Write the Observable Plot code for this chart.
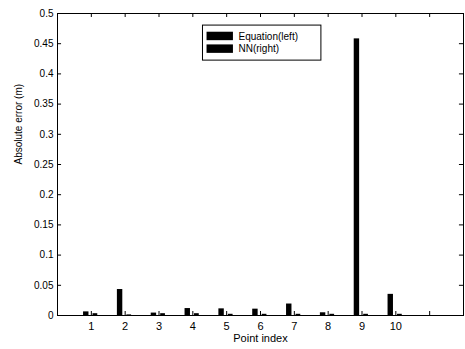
<!DOCTYPE html>
<html><head><meta charset="utf-8">
<script src="https://cdn.jsdelivr.net/npm/d3@7"></script>
<script src="https://cdn.jsdelivr.net/npm/@observablehq/plot@0.6"></script>
<style>body{margin:0;background:#fff;} svg{display:block;}</style>
</head><body><div id="chart"></div>
<script>
const pointIndex = [1, 2, 3, 4, 5, 6, 7, 8, 9, 10];
const equationErr = [0.006, 0.043, 0.004, 0.0115, 0.011, 0.0105, 0.019, 0.0045, 0.458, 0.035];
const nnErr = [0.003, 0.001, 0.003, 0.003, 0.002, 0.002, 0.002, 0.002, 0.002, 0.002];
const seriesNames = ["Equation(left)", "NN(right)"];
const yTicks = [0, 0.05, 0.1, 0.15, 0.2, 0.25, 0.3, 0.35, 0.4, 0.45, 0.5];
const xTicks = [1, 2, 3, 4, 5, 6, 7, 8, 9, 10, 11];
const xLabels = [1, 2, 3, 4, 5, 6, 7, 8, 9, 10];

const bars = [];
pointIndex.forEach((p, i) => {
  bars.push({x1: p - 0.23, x2: p - 0.07, y: equationErr[i], s: seriesNames[0]});
  bars.push({x1: p + 0.05, x2: p + 0.19, y: nnErr[i], s: seriesNames[1]});
});

const fmt = d => d === 0 ? "0" : String(d);
const chart = Plot.plot({
  width: 465, height: 349,
  marginLeft: 57, marginRight: 2, marginTop: 13, marginBottom: 34,
  style: {fontFamily: "Liberation Sans, Arial, sans-serif", fontSize: "10px", color: "#000", background: "#fff"},
  x: {domain: [0, 12]},
  y: {domain: [0, 0.5]},
  marks: [
    Plot.rectY(bars, {x1: "x1", x2: "x2", y1: 0, y2: "y", fill: "#000"}),
    Plot.frame({stroke: "#000"}),
    Plot.ruleY(yTicks, {y: d => d, x1: 0, x2: 0.12, stroke: "#000"}),
    Plot.ruleY(yTicks, {y: d => d, x1: 11.88, x2: 12, stroke: "#000"}),
    Plot.ruleX(xTicks, {x: d => d, y1: 0, y2: 0.0066, stroke: "#000"}),
    Plot.ruleX(xTicks, {x: d => d, y1: 0.4934, y2: 0.5, stroke: "#000"}),
    Plot.axisY(yTicks, {tickSize: 0, tickPadding: 4, tickFormat: fmt, label: null, fontSize: 10}),
    Plot.axisX(xLabels, {tickSize: 0, tickPadding: 7, label: null, fontSize: 11}),
    Plot.text(["Absolute error (m)"], {frameAnchor: "left", dx: -39, rotate: -90, fontSize: 10}),
    Plot.text(["Point index"], {frameAnchor: "bottom", dy: 26, fontSize: 11}),
    // legend
    Plot.rect([0], {x1: 4.3, x2: 7.8, y1: 0.422, y2: 0.48, fill: "#fff", stroke: "#000"}),
    Plot.rect(seriesNames, {x1: 4.42, x2: 5.2, y1: (d, i) => 0.469 - i*0.021, y2: (d, i) => 0.455 - i*0.021, fill: "#000"}),
    Plot.text(seriesNames, {x: 5.35, y: (d, i) => 0.462 - i*0.021, text: d => d, textAnchor: "start", fontSize: 10})
  ]
});
document.getElementById("chart").appendChild(chart);
</script>
</body></html>
